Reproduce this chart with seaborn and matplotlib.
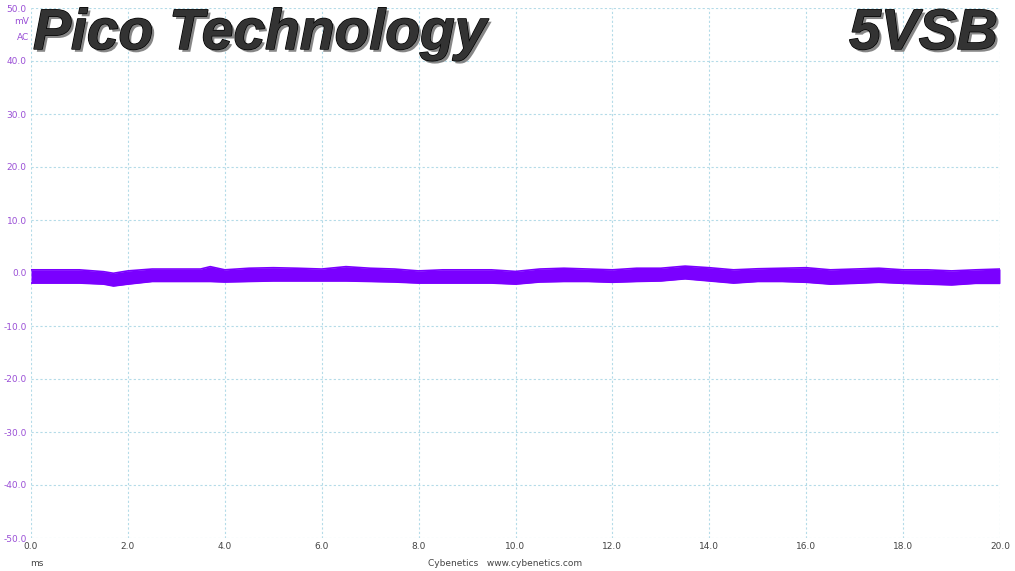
import numpy as np
import matplotlib
matplotlib.use("Agg")
import matplotlib.pyplot as plt
import matplotlib.patheffects as pe
from matplotlib.font_manager import FontProperties
import seaborn as sns

# ── DATA (mV envelope every 0.5 ms) ──
time_ms = [0.0, 0.5, 1.0, 1.5, 1.7, 2.0, 2.5, 3.0, 3.5, 3.7, 4.0, 4.5,
           5.0, 5.5, 6.0, 6.5, 7.0, 7.5, 8.0, 8.5, 9.0, 9.5, 10.0,
           10.5, 11.0, 11.5, 12.0, 12.5, 13.0, 13.5, 14.0, 14.5, 15.0,
           15.5, 16.0, 16.5, 17.0, 17.5, 18.0, 18.5, 19.0, 19.5, 20.0]
upper_mv = [0.6, 0.6, 0.6, 0.25, -0.05, 0.4, 0.75, 0.75, 0.75, 1.2, 0.6, 0.9,
            1.0, 0.9, 0.75, 1.2, 0.9, 0.75, 0.4, 0.6, 0.6, 0.6, 0.3,
            0.75, 0.9, 0.75, 0.6, 0.9, 0.9, 1.3, 1.0, 0.6, 0.8,
            0.9, 1.0, 0.6, 0.75, 0.9, 0.6, 0.6, 0.4, 0.6, 0.75]
lower_mv = [-1.9, -1.9, -1.9, -2.1, -2.45, -2.1, -1.6, -1.6, -1.6, -1.6, -1.7, -1.6,
            -1.5, -1.5, -1.5, -1.5, -1.6, -1.7, -1.9, -1.9, -1.9, -1.9, -2.1,
            -1.7, -1.6, -1.6, -1.75, -1.6, -1.5, -1.1, -1.5, -1.9, -1.6,
            -1.6, -1.75, -2.1, -1.95, -1.75, -1.95, -2.1, -2.25, -1.95, -1.95]
x_ticks = [0, 2, 4, 6, 8, 10, 12, 14, 16, 18, 20]
y_ticks = [-50, -40, -30, -20, -10, 0, 10, 20, 30, 40, 50]

trace_color = "#7a00ff"
grid_color = "#b4dbe8"

sns.set_style("white")
plt.rcParams['font.family'] = ['DejaVu Sans']

fig = plt.figure(figsize=(10.15, 5.71), dpi=100)
ax = fig.add_axes([31 / 1015, 1 - 538 / 571, 969 / 1015, 530 / 571])

sns.lineplot(x=time_ms, y=upper_mv, ax=ax, color=trace_color, lw=1.2)
sns.lineplot(x=time_ms, y=lower_mv, ax=ax, color=trace_color, lw=1.2)
ax.fill_between(time_ms, lower_mv, upper_mv, color=trace_color, lw=0)

ax.set_xlim(0, 20)
ax.set_ylim(-50, 50)
ax.set_xticks(x_ticks)
ax.set_yticks(y_ticks)
ax.set_xticklabels([f"{v:.1f}" for v in x_ticks], fontsize=6.5, color="#444444")
ax.set_yticklabels([f"{v:.1f}" for v in y_ticks], fontsize=6.5, color="#9a4fd6")
ax.tick_params(length=0, pad=3)
ax.grid(True, color=grid_color, linestyle=(0, (2, 2)), lw=0.8)
for s in ax.spines.values():
    s.set_visible(False)

# axis unit labels
fig.text(29 / 1015, 1 - 22 / 571, "mV", ha="right", va="center", fontsize=6.5, color="#9a4fd6")
fig.text(29 / 1015, 1 - 37 / 571, "AC", ha="right", va="center", fontsize=6.5, color="#9a4fd6")
fig.text(37 / 1015, 1 - 564 / 571, "ms", ha="center", va="center", fontsize=6.5, color="#444444")
fig.text(505 / 1015, 1 - 564 / 571, "Cybenetics   www.cybenetics.com", ha="center", va="center",
         fontsize=6.5, color="#444444")

# big shaded titles
title_font = FontProperties(family="Liberation Sans", weight="bold", style="italic", size=41)
effects = [pe.withSimplePatchShadow(offset=(2, -2), shadow_rgbFace="#555555", alpha=0.7),
           pe.withStroke(linewidth=1.0, foreground="#000000")]
fig.text(33 / 1015, 1 - 34 / 571, "Pico Technology", ha="left", va="center",
         fontproperties=title_font, color="#333333", path_effects=effects)
fig.text(998 / 1015, 1 - 34 / 571, "5VSB", ha="right", va="center",
         fontproperties=title_font, color="#333333", path_effects=effects)

fig.savefig("out.png", dpi=100, facecolor="white")
